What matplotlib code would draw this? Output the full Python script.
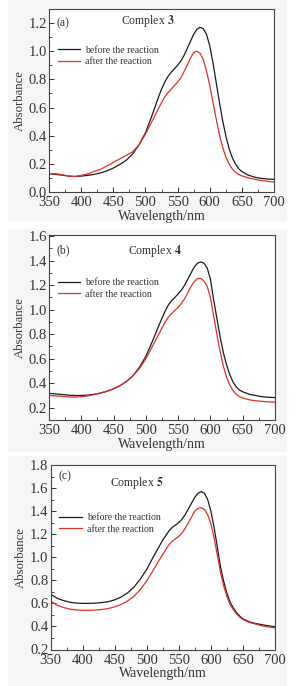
import matplotlib
matplotlib.use("Agg")
import matplotlib.pyplot as plt
from matplotlib.patches import Rectangle
from matplotlib.ticker import MultipleLocator

plt.rcParams['font.family'] = ['Liberation Serif', 'DejaVu Serif']
plt.rcParams['mathtext.fontset'] = 'stix'

# ---- data ----
wl = [350, 360, 370, 380, 390, 400, 410, 420, 430, 440, 450, 460, 470, 480, 490, 500, 510, 520, 525, 530,
      535, 540, 545, 550, 555, 560, 565, 570, 575, 580, 585, 590, 595, 600, 605, 610, 615, 620, 625, 630,
      635, 640, 645, 650, 660, 670, 680, 690, 700]

before_a = [0.13, 0.125, 0.12, 0.113, 0.11, 0.113, 0.118, 0.125, 0.135, 0.15, 0.17, 0.195, 0.225, 0.27, 0.335, 0.42, 0.54, 0.67, 0.73, 0.78,
            0.82, 0.85, 0.875, 0.90, 0.93, 0.97, 1.02, 1.07, 1.12, 1.155, 1.17, 1.16, 1.12, 1.04, 0.92, 0.78, 0.64, 0.51, 0.40, 0.31,
            0.245, 0.20, 0.165, 0.145, 0.12, 0.105, 0.097, 0.092, 0.09]
after_a = [0.13, 0.13, 0.123, 0.115, 0.11, 0.118, 0.128, 0.145, 0.16, 0.185, 0.21, 0.235, 0.26, 0.285, 0.335, 0.41, 0.50, 0.59, 0.635, 0.675,
           0.705, 0.73, 0.755, 0.78, 0.81, 0.855, 0.90, 0.95, 0.99, 1.0, 0.985, 0.94, 0.86, 0.76, 0.64, 0.52, 0.41, 0.32, 0.25, 0.20,
           0.165, 0.14, 0.125, 0.115, 0.10, 0.09, 0.082, 0.076, 0.07]

before_b = [0.317, 0.313, 0.308, 0.303, 0.30, 0.30, 0.303, 0.31, 0.32, 0.335, 0.355, 0.38, 0.415, 0.46, 0.53, 0.62, 0.74, 0.87, 0.93, 0.99,
            1.04, 1.075, 1.10, 1.13, 1.16, 1.20, 1.25, 1.30, 1.35, 1.38, 1.39, 1.38, 1.34, 1.25, 1.08, 0.93, 0.78, 0.65, 0.55, 0.47,
            0.41, 0.37, 0.345, 0.33, 0.31, 0.30, 0.29, 0.285, 0.283]
after_b = [0.30, 0.297, 0.293, 0.288, 0.287, 0.29, 0.297, 0.307, 0.32, 0.335, 0.355, 0.38, 0.415, 0.46, 0.52, 0.60, 0.70, 0.80, 0.85, 0.90,
           0.94, 0.97, 0.995, 1.02, 1.05, 1.09, 1.14, 1.19, 1.23, 1.255, 1.255, 1.235, 1.19, 1.10, 0.95, 0.80, 0.66, 0.54, 0.45, 0.385,
           0.34, 0.31, 0.29, 0.28, 0.265, 0.257, 0.252, 0.248, 0.245]

before_c = [0.68, 0.645, 0.625, 0.61, 0.603, 0.60, 0.60, 0.602, 0.607, 0.615, 0.63, 0.655, 0.69, 0.74, 0.81, 0.895, 1.00, 1.10, 1.15, 1.19,
            1.23, 1.26, 1.28, 1.30, 1.33, 1.37, 1.42, 1.47, 1.52, 1.555, 1.57, 1.555, 1.50, 1.40, 1.26, 1.09, 0.92, 0.79, 0.69, 0.61,
            0.56, 0.52, 0.49, 0.465, 0.44, 0.425, 0.415, 0.405, 0.398]
after_c = [0.62, 0.585, 0.565, 0.55, 0.543, 0.54, 0.54, 0.542, 0.547, 0.555, 0.57, 0.59, 0.62, 0.66, 0.72, 0.795, 0.885, 0.98, 1.025, 1.07,
           1.11, 1.14, 1.16, 1.18, 1.21, 1.25, 1.30, 1.35, 1.40, 1.425, 1.43, 1.415, 1.37, 1.29, 1.17, 1.02, 0.87, 0.75, 0.66, 0.59,
           0.545, 0.51, 0.48, 0.46, 0.435, 0.42, 0.405, 0.395, 0.388]

tags = ['(a)', '(b)', '(c)']
complex_nums = ['3', '4', '5']
legend_labels = ['before the reaction', 'after the reaction']
xticks = [350, 400, 450, 500, 550, 600, 650, 700]
yticks_a = [0.0, 0.2, 0.4, 0.6, 0.8, 1.0, 1.2]
yticks_b = [0.2, 0.4, 0.6, 0.8, 1.0, 1.2, 1.4, 1.6]
yticks_c = [0.2, 0.4, 0.6, 0.8, 1.0, 1.2, 1.4, 1.6, 1.8]

W, H = 296, 686
panels = [
    dict(before=before_a, after=after_a, ylim=(0.0, 1.3), yticks=yticks_a,
         rect=[49/W, (H-192)/H, 225/W, 183/H], tag_xy=(0.035, 0.923), cx=(0.44, 0.934), leg_y=0.743),
    dict(before=before_b, after=after_b, ylim=(0.1, 1.61), yticks=yticks_b,
         rect=[49/W, (H-420)/H, 226/W, 185/H], tag_xy=(0.035, 0.919), cx=(0.47, 0.912), leg_y=0.711),
    dict(before=before_c, after=after_c, ylim=(0.2, 1.8), yticks=yticks_c,
         rect=[50.5/W, (H-649.5)/H, 224.5/W, 184.5/H], tag_xy=(0.035, 0.94), cx=(0.385, 0.90), leg_y=0.683),
]

fig = plt.figure(figsize=(2.96, 6.86), dpi=100)
fig.patch.set_facecolor('white')
for (x0, y0, x1, y1) in [(8, 0, 287, 221), (8, 229, 287, 452), (8, 456, 287, 686)]:
    fig.patches.append(Rectangle((x0/W, 1-y1/H), (x1-x0)/W, (y1-y0)/H,
                                 transform=fig.transFigure, facecolor='#f6f6f6',
                                 edgecolor='none', zorder=-10))

txt = '#333333'
for i, p in enumerate(panels):
    ax = fig.add_axes(p['rect'])
    ax.set_facecolor('white')
    ax.plot(wl, p['before'], color='#1a1a1a', lw=0.9, label=legend_labels[0])
    ax.plot(wl, p['after'], color='#e0302a', lw=0.9, label=legend_labels[1])
    ax.set_xlim(350, 700)
    ax.set_ylim(*p['ylim'])
    ax.set_xticks(xticks)
    ax.set_yticks(p['yticks'])
    ax.xaxis.set_minor_locator(MultipleLocator(25))
    ax.yaxis.set_minor_locator(MultipleLocator(0.1))
    ax.tick_params(which='both', direction='in', top=False, right=False,
                   labelsize=10.5, colors=txt, pad=1.5)
    ax.tick_params(axis='x', which='major', pad=3)
    ax.tick_params(which='major', length=3.5, width=0.7)
    ax.tick_params(which='minor', length=2, width=0.6)
    ax.set_yticklabels([f'{v:.1f}' for v in p['yticks']])
    for s in ax.spines.values():
        s.set_color('#444444')
        s.set_linewidth(0.8)
    ax.set_xlabel('Wavelength/nm', fontsize=10, color=txt, labelpad=0.3)
    ax.set_ylabel('Absorbance', fontsize=9.2, color=txt, labelpad=2)
    ax.text(p['tag_xy'][0], p['tag_xy'][1], tags[i], transform=ax.transAxes,
            fontsize=8.5, color=txt, va='center')
    ax.text(p['cx'][0], p['cx'][1], 'Complex $\\mathbf{' + complex_nums[i] + '}$',
            transform=ax.transAxes, fontsize=8.5, color=txt, va='center', ha='center')
    leg = ax.legend(loc='center left', bbox_to_anchor=(0.04, p['leg_y']), frameon=False,
                    fontsize=7, handlelength=2.3, handletextpad=0.5,
                    labelspacing=0.25, borderaxespad=0.0, borderpad=0.0)
    for t in leg.get_texts():
        t.set_color(txt)

fig.savefig('out.png', dpi=100, facecolor='white')
